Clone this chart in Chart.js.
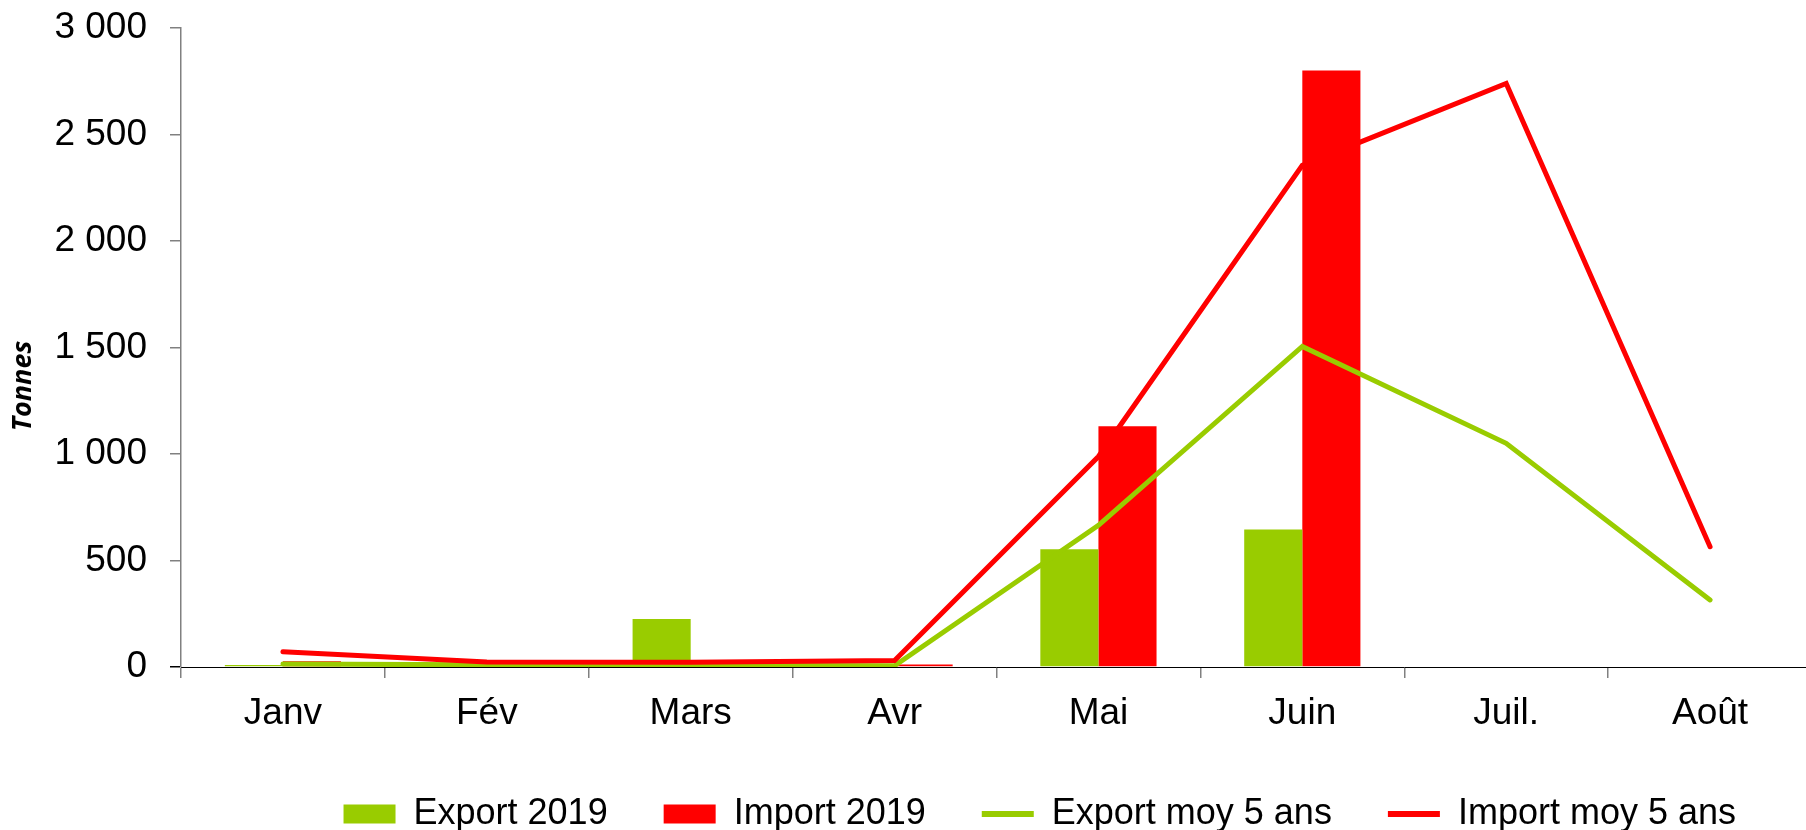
<!DOCTYPE html>
<html>
<head>
<meta charset="utf-8">
<script src="https://cdn.jsdelivr.net/npm/chart.js@4/dist/chart.umd.min.js"></script>
<style>
html,body{margin:0;padding:0;background:#fff;overflow:hidden;width:1806px;height:830px}
#wrap{position:absolute;left:0;top:0;width:1812px;height:842px}
</style>
</head>
<body>
<div id="wrap"><canvas id="c" width="1812" height="842"></canvas></div>
<script>
// ---- data ----
const categories = ['Janv', 'Fév', 'Mars', 'Avr', 'Mai', 'Juin', 'Juil.', 'Août'];
const export2019 = [9, 0, 225, 2, 553, 645, null, null];
const import2019 = [27, 0, 0, 12, 1130, 2800, null, null];
const exportMoy5 = [14, 10, 8, 6, 665, 1505, 1050, 315];
const importMoy5 = [72, 23, 22, 30, 988, 2355, 2740, 565];
const yTickLabels = ['0', '500', '1 000', '1 500', '2 000', '2 500', '3 000'];
const seriesNames = ['Export 2019', 'Import 2019', 'Export moy 5 ans', 'Import moy 5 ans'];

const GREEN = '#99CC00';
const RED = '#FF0000';
const NBSP = '\u00A0';

const tickFont = { family: 'Liberation Sans, Arial, sans-serif', size: 37 };

new Chart(document.getElementById('c'), {
  type: 'bar',
  data: {
    labels: categories,
    datasets: [
      { label: seriesNames[0], data: export2019, backgroundColor: GREEN, borderWidth: 0, order: 2,
        categoryPercentage: 0.57, barPercentage: 1.0 },
      { label: seriesNames[1], data: import2019, backgroundColor: RED, borderWidth: 0, order: 3,
        categoryPercentage: 0.57, barPercentage: 1.0 },
      { type: 'line', label: seriesNames[2], data: exportMoy5, borderColor: GREEN, backgroundColor: GREEN,
        borderWidth: 5, pointRadius: 0, tension: 0, fill: false, borderCapStyle: 'round',
        borderJoinStyle: 'miter', order: 1 },
      { type: 'line', label: seriesNames[3], data: importMoy5, borderColor: RED, backgroundColor: RED,
        borderWidth: 5, pointRadius: 0, tension: 0, fill: false, borderCapStyle: 'round',
        borderJoinStyle: 'miter', order: 0 }
    ]
  },
  options: {
    responsive: false,
    animation: false,
    devicePixelRatio: 1,
    layout: { padding: { top: 28, left: 0, right: 0, bottom: 0 } },
    scales: {
      x: {
        offset: true,
        grid: { offset: true, drawOnChartArea: false, drawTicks: true, tickLength: 11,
                color: '#808080', lineWidth: 1.5 },
        border: { display: true, color: '#000000', width: 1 },
        ticks: { font: tickFont, color: '#000', padding: 14, maxRotation: 0, autoSkip: false },
        afterFit: (s) => { s.height = 73; }
      },
      y: {
        min: 0, max: 3000,
        ticks: {
          stepSize: 500, font: tickFont, color: '#000', padding: 23,
          callback: (v) => yTickLabels[Math.round(v / 500)]
        },
        grid: { drawOnChartArea: false, drawTicks: true, tickLength: 11, lineWidth: 1.5,
                color: (c) => (c.tick && c.tick.value === 0) ? '#000000' : '#808080' },
        border: { display: true, color: '#808080', width: 1.5 },
        title: {
          display: true,
          text: 'Tonnes' + NBSP.repeat(11),
          font: { family: 'Open Sans, sans-serif', size: 27, weight: 'bold', style: 'italic' },
          color: '#000',
          padding: { top: 7, bottom: 0 }
        },
        afterFit: (s) => { s.width = 181; s.paddingTop = 0; s.paddingBottom = 0; }
      }
    },
    plugins: {
      legend: {
        position: 'bottom',
        align: 'end',
        labels: {
          usePointStyle: true,
          pointStyleWidth: 52,
          boxHeight: 19,
          padding: 56,
          color: '#000',
          font: { family: 'Liberation Sans, Arial, sans-serif', size: 36 },
          generateLabels: (chart) => {
            const items = Chart.defaults.plugins.legend.labels.generateLabels(chart);
            items.forEach((it) => {
              const ds = chart.data.datasets[it.datasetIndex];
              if (ds.type === 'line') {
                it.pointStyle = 'line';
                it.lineWidth = 6;
                it.strokeStyle = ds.borderColor;
              } else {
                it.pointStyle = 'rect';
                it.lineWidth = 0;
              }
              if (it.datasetIndex === 3) it.text = it.text + NBSP + NBSP;
            });
            return items.sort((a, b) => a.datasetIndex - b.datasetIndex);
          }
        }
      },
      tooltip: { enabled: false }
    }
  }
});
</script>
</body>
</html>
